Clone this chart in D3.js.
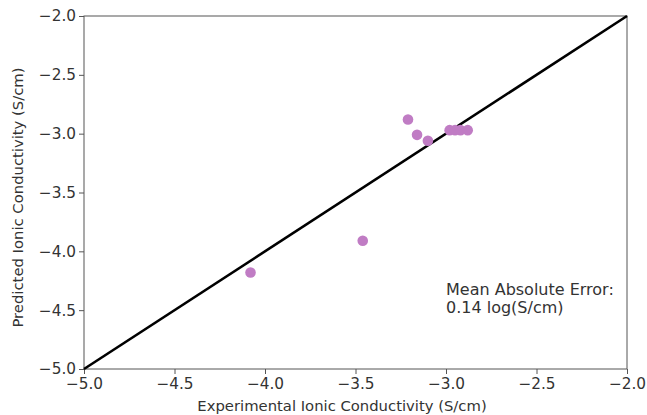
<!DOCTYPE html>
<html><head><meta charset="utf-8">
<script src="https://cdn.jsdelivr.net/npm/d3@7"></script>
<style>body{margin:0;background:#fff;} text{font-family:"DejaVu Sans",sans-serif;fill:#333;}</style>
</head><body><svg id="c" width="647" height="415"></svg>
<script>
const experimental = [-3.21, -3.16, -3.10, -2.98, -2.95, -2.92, -2.88, -3.46, -4.08];
const predicted    = [-2.88, -3.01, -3.06, -2.97, -2.97, -2.97, -2.97, -3.91, -4.18];
const xTicks = [-5.0, -4.5, -4.0, -3.5, -3.0, -2.5, -2.0];
const yTicks = [-5.0, -4.5, -4.0, -3.5, -3.0, -2.5, -2.0];
const identity = [-5.0, -2.0];
const annotation = ["Mean Absolute Error:", "0.14 log(S/cm)"];

const svg = d3.select("#c");
const L=84, R=627, T=16, B=369;
const x = d3.scaleLinear().domain([-5,-2]).range([L,R]);
const y = d3.scaleLinear().domain([-5,-2]).range([B,T]);
const fmt = d => (d<0?"\u2212":"")+Math.abs(d).toFixed(1);

const gx = svg.append("g").attr("transform",`translate(0,${B})`)
  .call(d3.axisBottom(x).tickValues(xTicks).tickFormat(fmt).tickSize(5).tickPadding(4));
const gy = svg.append("g").attr("transform",`translate(${L},0)`)
  .call(d3.axisLeft(y).tickValues(yTicks).tickFormat(fmt).tickSize(5).tickPadding(3));
[gx,gy].forEach(g=>{
  g.select(".domain").remove();
  g.selectAll("line").attr("stroke","#555");
  g.selectAll("text").style("font-size","15.3px").attr("fill","#333");
});
svg.append("rect").attr("x",L).attr("y",T).attr("width",R-L).attr("height",B-T)
  .attr("fill","none").attr("stroke","#555").attr("stroke-width",1);

svg.append("line").attr("x1",x(identity[0])).attr("y1",y(identity[0]))
  .attr("x2",x(identity[1])).attr("y2",y(identity[1]))
  .attr("stroke","#000").attr("stroke-width",2.6);

svg.append("g").selectAll("circle").data(experimental).join("circle")
  .attr("cx",d=>x(d)).attr("cy",(d,i)=>y(predicted[i])).attr("r",5.3)
  .attr("fill","#c07cc4");

svg.append("text").attr("x",342).attr("y",411).attr("text-anchor","middle")
  .style("font-size","14.8px").text("Experimental Ionic Conductivity (S/cm)");
svg.append("text").attr("transform",`translate(23,${(T+B)/2+5}) rotate(-90)`).attr("text-anchor","middle")
  .style("font-size","14.8px").text("Predicted Ionic Conductivity (S/cm)");

svg.append("g").selectAll("text").data(annotation).join("text")
  .attr("x",446).attr("y",(d,i)=>295+i*18).style("font-size","16px").text(d=>d);
</script></body></html>
